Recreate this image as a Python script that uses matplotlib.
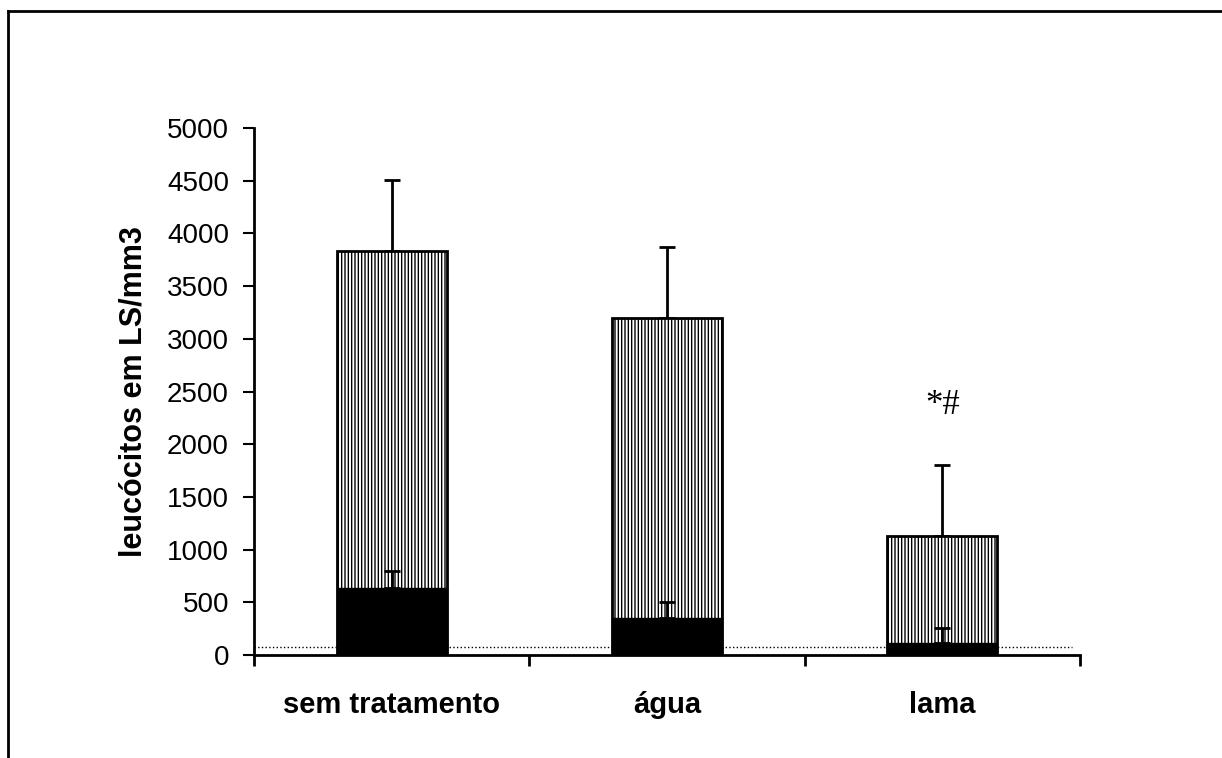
import matplotlib
matplotlib.use("Agg")
import matplotlib.pyplot as plt
from matplotlib.lines import Line2D

categories = ["sem tratamento", "água", "lama"]
total_vals = [3830, 3200, 1125]
total_err = [680, 675, 675]
black_vals = [640, 355, 110]
black_err = [155, 145, 150]
ref_line = 75
annot_text = "*#"
annot_y = 2370

plt.rcParams['hatch.color'] = '#888888'
plt.rcParams['hatch.linewidth'] = 1.0

fig = plt.figure(figsize=(12.22, 7.58), dpi=100)
W, H = 1222, 758
ax = fig.add_axes([254 / W, 1 - 655 / H, (1080 - 254) / W, (655 - 128) / H])

x = list(range(len(categories)))
ax.bar(x, total_vals, width=0.40, color='white', edgecolor='black',
       linewidth=2, hatch='|||||', zorder=2)
ax.errorbar(x, total_vals, yerr=[[0] * 3, total_err], fmt='none',
            ecolor='black', elinewidth=2, capsize=6, capthick=2, zorder=1)
ax.bar(x, black_vals, width=0.40, color='black', edgecolor='black',
       linewidth=1, zorder=3)
ax.errorbar(x, black_vals, yerr=[[0] * 3, black_err], fmt='none',
            ecolor='black', elinewidth=2, capsize=6, capthick=2, zorder=4)

ax.axhline(ref_line, xmin=0, xmax=0.99, color='black', linestyle=':',
           linewidth=1, zorder=1.5)

ax.text(2, annot_y, annot_text, ha='center', va='center', fontsize=25,
        family='Liberation Serif')

ax.set_xlim(-0.5, 2.5)
ax.set_ylim(0, 5000)
ax.set_yticks(range(0, 5001, 500))
ax.tick_params(axis='y', direction='out', length=8, width=1.5, labelsize=20,
               pad=10)
ax.set_xticks(x)
ax.set_xticklabels(categories, fontsize=21, fontweight='bold',
                   family='Liberation Sans')
ax.set_xticks([-0.5, 0.5, 1.5, 2.5], minor=True)
ax.tick_params(axis='x', which='major', length=0, pad=26)
ax.tick_params(axis='x', which='minor', direction='out', length=8, width=2)
for lbl in ax.get_yticklabels():
    lbl.set_family('Liberation Sans')
ax.set_ylabel("leucócitos em LS/mm3", fontsize=22, fontweight='bold',
              family='Liberation Sans', labelpad=13)
ax.spines['top'].set_visible(False)
ax.spines['right'].set_visible(False)
ax.spines['left'].set_linewidth(2)
ax.spines['bottom'].set_linewidth(2)

# outer frame (only top and left visible within image)
fig.add_artist(Line2D([8 / W, 1.0], [1 - 11 / H, 1 - 11 / H],
                      transform=fig.transFigure, color='black', linewidth=2))
fig.add_artist(Line2D([8 / W, 8 / W], [1 - 11 / H, 0],
                      transform=fig.transFigure, color='black', linewidth=2))

fig.savefig("out.png", dpi=100)
